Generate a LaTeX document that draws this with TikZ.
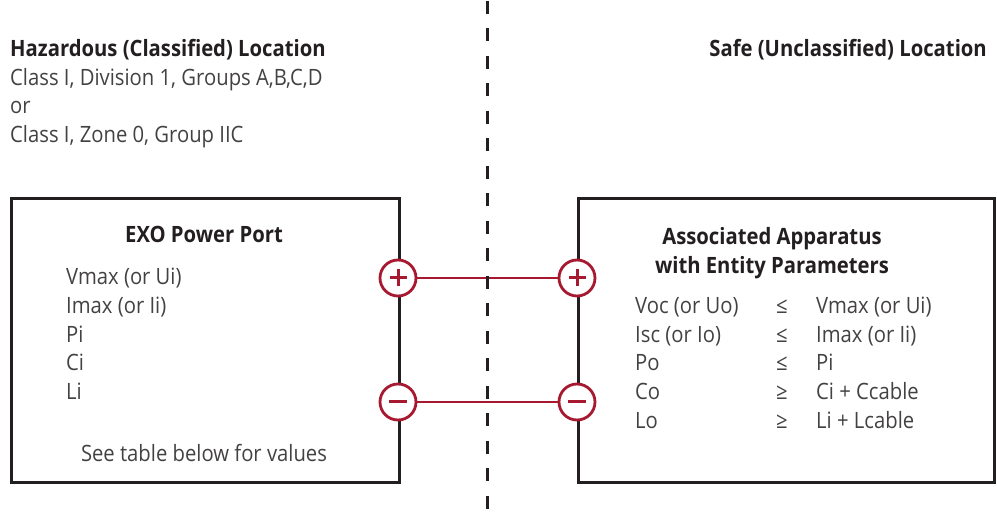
\documentclass[tikz,border=0pt]{standalone}
\usepackage{fontspec}
\setmainfont[FakeStretch=0.9]{Open Sans}
\usepackage{xcolor}
\usepackage{tikz}
\usetikzlibrary{positioning}

\definecolor{ink}{RGB}{35,31,32}
\definecolor{wire}{RGB}{167,25,48}

\begin{document}
\begin{tikzpicture}[
  x = 1pt, y = -1pt,
  wall/.style = {draw=ink, line width=3pt, inner sep=0pt},
  term/.style = {circle, draw=wire, line width=2.8pt, fill=white,
                 minimum size=36pt, inner sep=0pt},
  wirec/.style = {draw=wire, line width=2.8pt},
  sign/.style = {draw=wire, line width=3pt},
  divider/.style = {draw=ink, line width=3pt, dash pattern=on 13pt off 14.5pt},
  lbl/.style = {font=\fontsize{22.5}{28}\selectfont, text=ink!85, inner sep=0pt},
  head/.style = {font=\bfseries\fontsize{22.5}{28}\selectfont, text=ink, inner sep=0pt}
]
  \useasboundingbox (0,0) rectangle (997,521);

  % locations
  \node[head, anchor=base west] (haz)  at (10,57)  {Hazardous (Classified) Location};
  \node[lbl,  anchor=base west] (div1) at (10,86)  {Class I, Division 1, Groups A,B,C,D};
  \node[lbl,  anchor=base west] (orr)  at (10,114) {or};
  \node[lbl,  anchor=base west] (zone) at (10,143) {Class I, Zone 0, Group IIC};
  \node[head, anchor=base east] (safe) at (987,57) {Safe (Unclassified) Location};

  % boxes
  \node[wall, anchor=north west, minimum width=388pt, minimum height=284pt] (exo) at (10,197.5) {};
  \node[wall, anchor=north west, minimum width=416pt, minimum height=284pt] (assoc) at (577,197.5) {};

  % EXO side
  \node[head, anchor=base] (exohead) at (204,243) {EXO Power Port};
  \node[lbl, anchor=base west] (vmax) at (66,285) {Vmax (or Ui)};
  \node[lbl, anchor=base west] (imax) at (66,314) {Imax (or Ii)};
  \node[lbl, anchor=base west] (pi)   at (66,343) {Pi};
  \node[lbl, anchor=base west] (ci)   at (66,371) {Ci};
  \node[lbl, anchor=base west] (li)   at (66,400) {Li};
  \node[lbl, anchor=base] (seetab) at (204,461) {See table below for values};

  % associated apparatus side
  \node[head, anchor=base] (aahead)  at (772,245) {Associated Apparatus};
  \node[head, anchor=base] (aahead2) at (772,274) {with Entity Parameters};
  \node[lbl, anchor=base west] (voc) at (635,314) {Voc (or Uo)};
  \node[lbl, anchor=base west] (isc) at (635,343) {Isc (or Io)};
  \node[lbl, anchor=base west] (po)  at (635,371) {Po};
  \node[lbl, anchor=base west] (co)  at (635,400) {Co};
  \node[lbl, anchor=base west] (lo)  at (635,429) {Lo};
  \node[lbl, anchor=base west] (rel1) at (776,314) {≤};
  \node[lbl, anchor=base west] (rel2) at (776,343) {≤};
  \node[lbl, anchor=base west] (rel3) at (776,371) {≤};
  \node[lbl, anchor=base west] (rel4) at (776,400) {≥};
  \node[lbl, anchor=base west] (rel5) at (776,429) {≥};
  \node[lbl, anchor=base west] (vmx) at (816,314) {Vmax (or Ui)};
  \node[lbl, anchor=base west] (imx) at (816,343) {Imax (or Ii)};
  \node[lbl, anchor=base west] (pii) at (816,371) {Pi};
  \node[lbl, anchor=base west] (cic) at (816,400) {Ci + Ccable};
  \node[lbl, anchor=base west] (lil) at (816,429) {Li + Lcable};

  % terminals
  \node[term] (lplus)  at (398,278) {};
  \node[term] (lminus) at (398,402) {};
  \node[term] (rplus)  at (577,278) {};
  \node[term] (rminus) at (577,402) {};

  \draw[sign] ([xshift=-8.5pt]lplus.center) -- ([xshift=8.5pt]lplus.center)
              ([yshift=-8.5pt]lplus.center) -- ([yshift=8.5pt]lplus.center);
  \draw[sign] ([xshift=-8.5pt]rplus.center) -- ([xshift=8.5pt]rplus.center)
              ([yshift=-8.5pt]rplus.center) -- ([yshift=8.5pt]rplus.center);
  \draw[sign] ([xshift=-9pt]lminus.center) -- ([xshift=9pt]lminus.center);
  \draw[sign] ([xshift=-9pt]rminus.center) -- ([xshift=9pt]rminus.center);

  \draw[wirec] (lplus) -- (rplus);
  \draw[wirec] (lminus) -- (rminus);

  % boundary
  \coordinate (divtop) at (487,1);
  \coordinate (divbot) at (487,521);
  \draw[divider] (divtop) -- (divbot);
\end{tikzpicture}
\end{document}
